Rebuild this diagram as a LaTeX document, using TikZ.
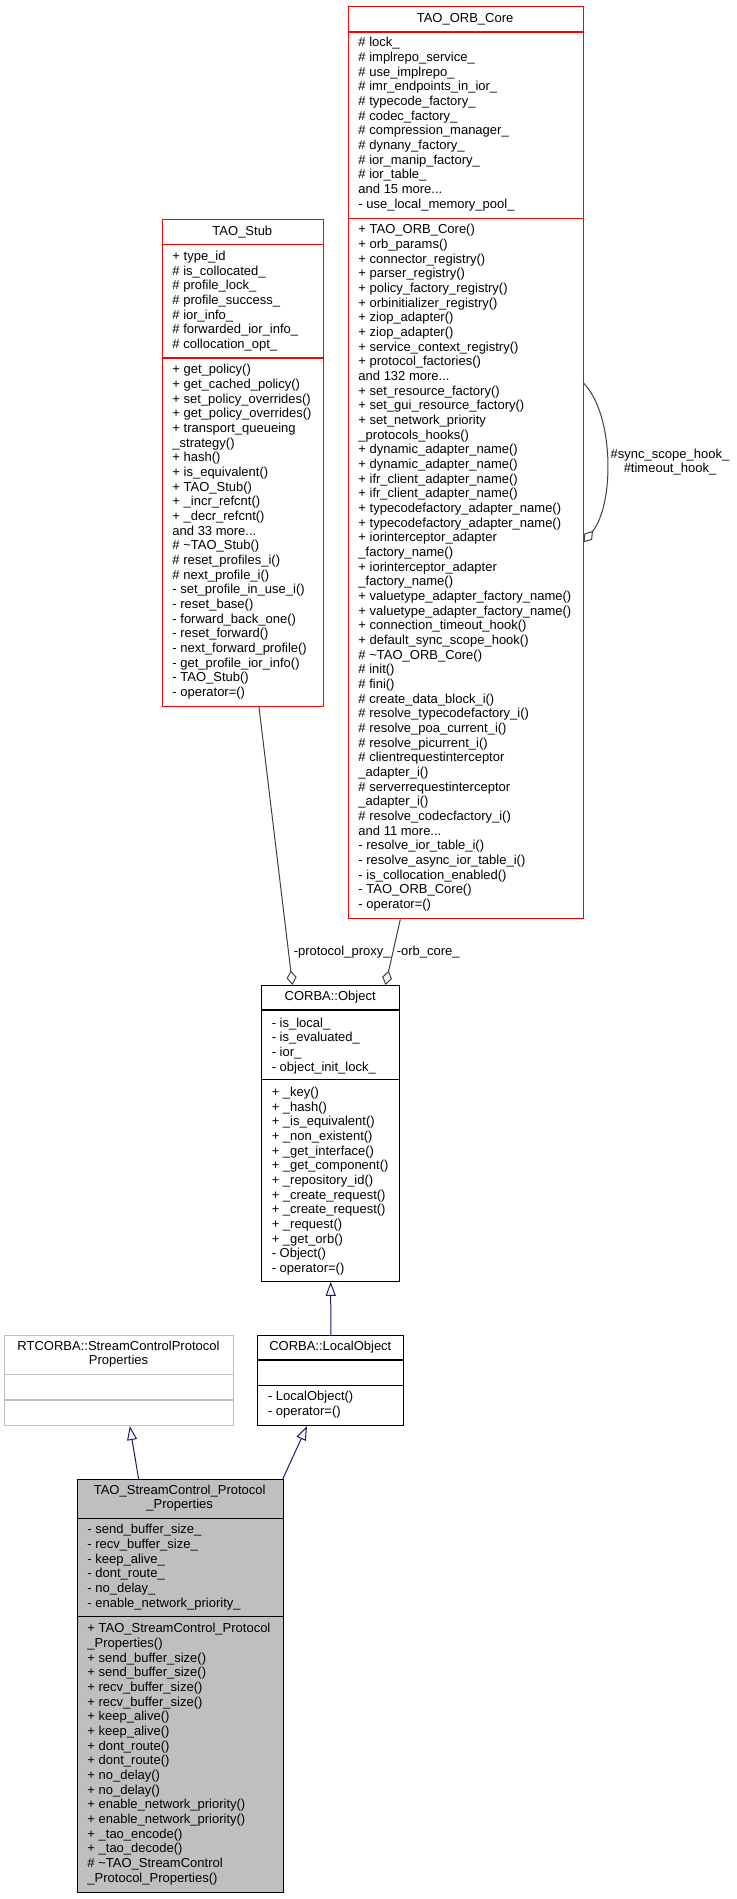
\documentclass[tikz,border=0pt]{standalone}
\usepackage{fontspec}
\setmainfont{Liberation Sans}
\usetikzlibrary{arrows.meta,calc}
\definecolor{midnightblue}{RGB}{25,25,112}
\definecolor{grey25}{RGB}{64,64,64}
\definecolor{grey75}{RGB}{191,191,191}
\tikzset{
 classbox/.style={line width=0.8pt, inner sep=0pt, anchor=north west},
 txt/.style={inner sep=0pt, align=left, anchor=north west, font=\fontsize{9.75pt}{11pt}\selectfont, execute at begin node=\strut},
 ttl/.style={inner sep=0pt, align=center, anchor=north, font=\fontsize{9.75pt}{10.35pt}\selectfont, execute at begin node=\strut},
 inh/.style={draw=midnightblue, line width=0.75pt, -{Triangle[open, length=10.5pt, width=7.5pt]}},
 use/.style={draw=grey25, line width=0.75pt, -{Diamond[open, length=11pt, width=7.5pt]}},
}
% name, left, top, right, bottom, sep1, sep2, border colour, fill colour
\newcommand\mkclass[9]{%
 \node[classbox, draw=#8, fill=#9, minimum width={(#4-#2)*0.75pt}, minimum height={(#5-#3)*0.75pt}] (#1) at (#2,#3) {};
 \draw[draw=#8, line width=0.8pt] (#2,#6) -- (#4,#6) (#2,#7) -- (#4,#7);
}
\begin{document}
\begin{tikzpicture}[x=0.75pt,y=-0.75pt]
\fill[white] (0,0) rectangle (736,1899);
\useasboundingbox (0,0) rectangle (736,1899);

% TAO_ORB_Core
\mkclass{orb}{347.7}{6.3}{582.5}{918.3}{32}{218.7}{red}{white}
\node[ttl] (orbT) at (465.1,12.3) {TAO\_ORB\_Core};
\node[txt] (orbA) at (358.2,37.3) {\# lock\_\\
\# implrepo\_service\_\\
\# use\_implrepo\_\\
\# imr\_endpoints\_in\_ior\_\\
\# typecode\_factory\_\\
\# codec\_factory\_\\
\# compression\_manager\_\\
\# dynany\_factory\_\\
\# ior\_manip\_factory\_\\
\# ior\_table\_\\
and 15 more...\\
- use\_local\_memory\_pool\_};
\node[txt] (orbM) at (358.2,224) {+ TAO\_ORB\_Core()\\
+ orb\_params()\\
+ connector\_registry()\\
+ parser\_registry()\\
+ policy\_factory\_registry()\\
+ orbinitializer\_registry()\\
+ ziop\_adapter()\\
+ ziop\_adapter()\\
+ service\_context\_registry()\\
+ protocol\_factories()\\
and 132 more...\\
+ set\_resource\_factory()\\
+ set\_gui\_resource\_factory()\\
+ set\_network\_priority\\
\_protocols\_hooks()\\
+ dynamic\_adapter\_name()\\
+ dynamic\_adapter\_name()\\
+ ifr\_client\_adapter\_name()\\
+ ifr\_client\_adapter\_name()\\
+ typecodefactory\_adapter\_name()\\
+ typecodefactory\_adapter\_name()\\
+ iorinterceptor\_adapter\\
\_factory\_name()\\
+ iorinterceptor\_adapter\\
\_factory\_name()\\
+ valuetype\_adapter\_factory\_name()\\
+ valuetype\_adapter\_factory\_name()\\
+ connection\_timeout\_hook()\\
+ default\_sync\_scope\_hook()\\
\# \textasciitilde{}TAO\_ORB\_Core()\\
\# init()\\
\# fini()\\
\# create\_data\_block\_i()\\
\# resolve\_typecodefactory\_i()\\
\# resolve\_poa\_current\_i()\\
\# resolve\_picurrent\_i()\\
\# clientrequestinterceptor\\
\_adapter\_i()\\
\# serverrequestinterceptor\\
\_adapter\_i()\\
\# resolve\_codecfactory\_i()\\
and 11 more...\\
- resolve\_ior\_table\_i()\\
- resolve\_async\_ior\_table\_i()\\
- is\_collocation\_enabled()\\
- TAO\_ORB\_Core()\\
- operator=()};

% TAO_Stub
\mkclass{stub}{161.7}{219}{323}{705.7}{244.7}{358}{red}{white}
\node[ttl] (stubT) at (242.35,225.8) {TAO\_Stub};
\node[txt] (stubA) at (172.2,250.7) {+ type\_id\\
\# is\_collocated\_\\
\# profile\_lock\_\\
\# profile\_success\_\\
\# ior\_info\_\\
\# forwarded\_ior\_info\_\\
\# collocation\_opt\_};
\node[txt] (stubM) at (172.2,364) {+ get\_policy()\\
+ get\_cached\_policy()\\
+ set\_policy\_overrides()\\
+ get\_policy\_overrides()\\
+ transport\_queueing\\
\_strategy()\\
+ hash()\\
+ is\_equivalent()\\
+ TAO\_Stub()\\
+ \_incr\_refcnt()\\
+ \_decr\_refcnt()\\
and 33 more...\\
\# \textasciitilde{}TAO\_Stub()\\
\# reset\_profiles\_i()\\
\# next\_profile\_i()\\
- set\_profile\_in\_use\_i()\\
- reset\_base()\\
- forward\_back\_one()\\
- reset\_forward()\\
- next\_forward\_profile()\\
- get\_profile\_ior\_info()\\
- TAO\_Stub()\\
- operator=()};

% CORBA::Object
\mkclass{obj}{261}{985}{399.3}{1280.7}{1010}{1079.3}{black}{white}
\node[ttl] (objT) at (330.15,990.7) {CORBA::Object};
\node[txt] (objA) at (271.5,1017.3) {- is\_local\_\\
- is\_evaluated\_\\
- ior\_\\
- object\_init\_lock\_};
\node[txt] (objM) at (271.5,1086.7) {+ \_key()\\
+ \_hash()\\
+ \_is\_equivalent()\\
+ \_non\_existent()\\
+ \_get\_interface()\\
+ \_get\_component()\\
+ \_repository\_id()\\
+ \_create\_request()\\
+ \_create\_request()\\
+ \_request()\\
+ \_get\_orb()\\
- Object()\\
- operator=()};

% CORBA::LocalObject
\mkclass{lobj}{257.3}{1335}{403.3}{1425}{1360}{1385.3}{black}{white}
\node[ttl] (lobjT) at (330.3,1340.7) {CORBA::LocalObject};
\node[txt] (lobjM) at (267.8,1390.7) {- LocalObject()\\
- operator=()};

% RTCORBA::StreamControlProtocolProperties
\mkclass{rt}{4.3}{1334.7}{232.7}{1425}{1374.3}{1400}{grey75}{white}
\node[ttl] (rtT) at (118.5,1340.7) {RTCORBA::StreamControlProtocol\\Properties};

% TAO_StreamControl_Protocol_Properties
\mkclass{sub}{76.7}{1479}{282.7}{1891.7}{1518.7}{1616.7}{black}{grey75}
\node[ttl] (subT) at (179.7,1484.7) {TAO\_StreamControl\_Protocol\\\_Properties};
\node[txt] (subA) at (87.2,1524) {- send\_buffer\_size\_\\
- recv\_buffer\_size\_\\
- keep\_alive\_\\
- dont\_route\_\\
- no\_delay\_\\
- enable\_network\_priority\_};
\node[txt] (subM) at (87.2,1623) {+ TAO\_StreamControl\_Protocol\\
\_Properties()\\
+ send\_buffer\_size()\\
+ send\_buffer\_size()\\
+ recv\_buffer\_size()\\
+ recv\_buffer\_size()\\
+ keep\_alive()\\
+ keep\_alive()\\
+ dont\_route()\\
+ dont\_route()\\
+ no\_delay()\\
+ no\_delay()\\
+ enable\_network\_priority()\\
+ enable\_network\_priority()\\
+ \_tao\_encode()\\
+ \_tao\_decode()\\
\# \textasciitilde{}TAO\_StreamControl\\
\_Protocol\_Properties()};

% usage connectors
\draw[use] ($(stub.south west)!0.599!(stub.south east)$) -- ($(obj.north west)!0.226!(obj.north east)$);
\draw[use] ($(orb.south west)!0.223!(orb.south east)$) -- ($(obj.north west)!0.893!(obj.north east)$);
\coordinate (loopA) at ($(orb.north east)!0.4127!(orb.south east)$);
\coordinate (loopB) at ($(orb.north east)!0.587!(orb.south east)$);
\draw[use] (loopA) .. controls (614.5,414.7) and (614.5,504.7) .. (loopB);
\node[txt] (lblproxy) at (293.5,945) {-protocol\_proxy\_};
\node[txt] (lblorb) at (396.5,945) {-orb\_core\_};
\node[ttl, font=\fontsize{9.75pt}{10pt}\selectfont] (lblloop) at (670,449) {\#sync\_scope\_hook\_\\\#timeout\_hook\_};

% inheritance connectors
\draw[inh] (lobj.north) -- (obj.south);
\draw[inh] ($(sub.north west)!0.299!(sub.north east)$) -- ($(rt.south west)!0.547!(rt.south east)$);
\draw[inh] ($(sub.north west)!0.995!(sub.north east)$) -- ($(lobj.south west)!0.338!(lobj.south east)$);
\end{tikzpicture}
\end{document}
